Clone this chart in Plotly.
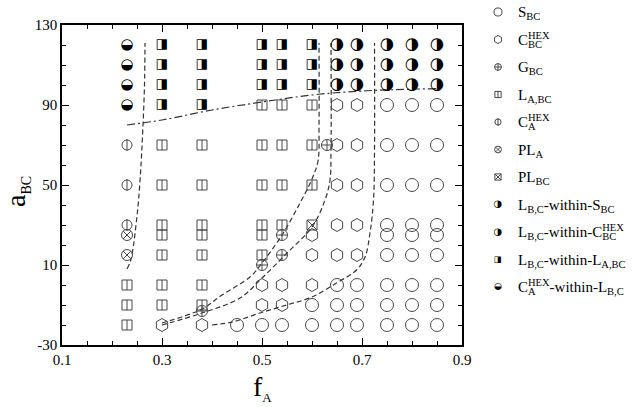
import plotly.graph_objects as go

# ---------------- data (f_A -> list of a_BC) ----------------
S_BC = {0.45: [-20], 0.50: [-20], 0.54: [-20], 0.60: [-10, -20],
        0.65: [0, -10, -20], 0.69: [0, -10, -20],
        0.75: [90, 70, 50, 30, 25, 15, 0, -10, -20],
        0.80: [90, 70, 50, 30, 25, 15, 0, -10, -20],
        0.85: [90, 70, 50, 30, 25, 15, 0, -10, -20]}
C_BC_HEX = {0.30: [-20], 0.38: [-20], 0.50: [0, -10], 0.54: [0, -10],
            0.60: [25, 15, 0], 0.65: [90, 70, 50, 30, 15],
            0.69: [90, 70, 50, 30, 15]}
G_BC = {0.38: [-13], 0.50: [10], 0.54: [25, 15], 0.63: [70]}
L_A_BC = {0.23: [0, -10, -20],
          0.30: [70, 50, 30, 25, 15, 0, -10],
          0.38: [70, 50, 30, 25, 15, 0, -10],
          0.50: [90, 70, 50, 30, 25, 15],
          0.54: [90, 70, 50, 30],
          0.60: [90, 70, 50]}
C_A_HEX = {0.23: [70, 50, 30]}
PL_A = {0.23: [25, 15]}
PL_BC = {0.60: [30]}
LBC_IN_S = {0.75: [120, 110, 100], 0.80: [120, 110, 100], 0.85: [120, 110, 100]}
LBC_IN_C = {0.65: [120, 110, 100], 0.69: [120, 110, 100]}
LBC_IN_L = {0.30: [120, 110, 100, 90], 0.38: [120, 110, 100, 90],
            0.50: [120, 110, 100], 0.54: [120, 110, 100], 0.60: [120, 110, 100]}
CA_IN_L = {0.23: [120, 110, 100, 90]}

# phase boundaries
B1_f = [0.230, 0.237, 0.243, 0.248, 0.253, 0.258, 0.262, 0.265, 0.266]
B1_a = [8, 12, 20, 30, 42, 60, 80, 100, 121]
B2_f = [0.30, 0.38, 0.42, 0.476, 0.50, 0.54, 0.576, 0.60, 0.612, 0.614, 0.614]
B2_a = [-19, -12, -5, 4, 11, 25, 41, 53, 62, 80, 121]
B3_f = [0.30, 0.38, 0.456, 0.50, 0.55, 0.60, 0.626, 0.636, 0.638, 0.638]
B3_a = [-20, -14, -6.5, 3.5, 16, 29, 42.5, 52.5, 67, 121]
B4_f = [0.40, 0.442, 0.496, 0.549, 0.60, 0.649, 0.689, 0.706, 0.716, 0.723, 0.725, 0.725]
B4_a = [-20, -18.4, -14, -10, -6, 1, 7.5, 14, 26, 42.5, 67, 121]
B5_f = [0.23, 0.30, 0.40, 0.50, 0.60, 0.70, 0.85]
B5_a = [80, 82.5, 87.5, 91.5, 95, 97, 98.2]

X_TICKS = [0.1, 0.3, 0.5, 0.7, 0.9]
Y_TICKS = [-30, 10, 50, 90, 130]
Y_TICKTEXT = ["-30", "10", "50", "90", "130"]

def inv(s):
    return "<span style='color:rgba(0,0,0,0)'>" + s + "</span>"

PAD = "<sup>" + inv(".") + "</sup><sub>" + inv(".") + "</sub>"

PHASES = [
    ("S", S_BC, "S<sub>BC</sub>", None),
    ("CBC", C_BC_HEX, "C<sup>HEX</sup>", inv("C") + "<sub>BC</sub>"),
    ("G", G_BC, "G<sub>BC</sub>", None),
    ("L", L_A_BC, "L<sub>A,BC</sub>", None),
    ("CA", C_A_HEX, "C<sup>HEX</sup>", inv("C") + "<sub>A</sub>"),
    ("PLA", PL_A, "PL<sub>A</sub>", None),
    ("PLBC", PL_BC, "PL<sub>BC</sub>", None),
    ("LS", LBC_IN_S, "L<sub>B,C</sub>-within-S<sub>BC</sub>", None),
    ("LC", LBC_IN_C, "L<sub>B,C</sub>-within-C<sup>HEX</sup>",
     inv("L") + "<sub>" + inv("B,C") + "</sub>" + inv("-within-C") + "<sub>BC</sub>"),
    ("LL", LBC_IN_L, "L<sub>B,C</sub>-within-L<sub>A,BC</sub>", None),
    ("CAL", CA_IN_L, "C<sup>HEX</sup>-within-L<sub>B,C</sub>", inv("C") + "<sub>A</sub>"),
]

# ---------------- styling ----------------
W, H = 633, 407
PX0, PX1, PY0, PY1 = 62, 462, 25, 345
MK = "#474747"
SERIF = "Liberation Serif"
GLYPH_FONT = "DejaVu Sans"

STYLE = {
    "S": [("m", "circle-open", 13)],
    "CBC": [("m", "hexagon-open", 13)],
    "G": [("m", "circle-cross-open", 11)],
    "L": [("m", "square-open", 10), ("m", "line-ns-open", 7.2)],
    "CA": [("m", "circle-open", 10), ("m", "line-ns-open", 8.5)],
    "PLA": [("m", "circle-x-open", 11)],
    "PLBC": [("m", "square-x-open", 10)],
    "LS": [("g", "\u25D1", 16.5)],
    "LC": [("g", "\u25D1", 16.5)],
    "LL": [("g", "\u25E8", 13.5)],
    "CAL": [("g", "\u25D2", 15)],
}
LEG_SCALE = 0.62
LEG_SYM_X, LEG_TXT_X = 13, 31
LEG_Y0, LEG_DY = 12, 27.5
LEG_FONT = 15

fig = go.Figure()

def expand(d):
    xs, ys = [], []
    for f, vals in d.items():
        for a in vals:
            xs.append(f)
            ys.append(a)
    return xs, ys

def add_layers(key, xs, ys, xa, ya, scale=1.0):
    for kind, sym, size in STYLE[key]:
        if kind == "m":
            fig.add_trace(go.Scatter(
                x=xs, y=ys, xaxis=xa, yaxis=ya, mode="markers", showlegend=False,
                hoverinfo="skip",
                marker=dict(symbol=sym, size=size * scale, color=MK,
                            line=dict(color=MK, width=1))))
        else:
            fig.add_trace(go.Scatter(
                x=xs, y=ys, xaxis=xa, yaxis=ya, mode="text", showlegend=False,
                hoverinfo="skip", text=[sym] * len(xs), textposition="middle center",
                textfont=dict(family=GLYPH_FONT, size=size * scale, color="black")))

# boundaries
for bf, ba in [(B1_f, B1_a), (B2_f, B2_a), (B3_f, B3_a), (B4_f, B4_a)]:
    fig.add_trace(go.Scatter(x=bf, y=ba, mode="lines", showlegend=False,
                             hoverinfo="skip", line=dict(color="#333", width=1.2,
                                                         dash="5px,3px", shape="spline")))
fig.add_trace(go.Scatter(x=B5_f, y=B5_a, mode="lines", showlegend=False, hoverinfo="skip",
                         line=dict(color="#333", width=1.2, dash="8px,3px,2px,3px",
                                   shape="spline")))

# phase points
for key, data, _, _ in PHASES:
    xs, ys = expand(data)
    add_layers(key, xs, ys, "x", "y")

# legend (symbols on an auxiliary pixel-like axis)
annotations = []
for i, (key, _, label, overlay) in enumerate(PHASES):
    ly = LEG_Y0 + LEG_DY * i
    add_layers(key, [LEG_SYM_X], [ly], "x2", "y2", LEG_SCALE)
    annotations.append(dict(x=LEG_TXT_X, y=ly, xref="x2", yref="y2", text=label + PAD,
                            showarrow=False, xanchor="left", yanchor="middle",
                            font=dict(family=SERIF, size=LEG_FONT, color="black")))
    if overlay:
        annotations.append(dict(x=LEG_TXT_X, y=ly, xref="x2", yref="y2", text=overlay + PAD,
                                showarrow=False, xanchor="left", yanchor="middle",
                                font=dict(family=SERIF, size=LEG_FONT, color="black")))

# axis titles
annotations.append(dict(x=(262) / W, y=1 - 388 / H, xref="paper", yref="paper",
                        text="f<sub><span style='font-size:13px'>A</span></sub>",
                        showarrow=False, xanchor="center", yanchor="middle",
                        font=dict(family=SERIF, size=28, color="black")))
annotations.append(dict(x=17 / W, y=1 - 192 / H, xref="paper", yref="paper",
                        text="a<sub><span style='font-size:14px'>BC</span></sub>",
                        textangle=-90, showarrow=False, xanchor="center", yanchor="middle",
                        font=dict(family=SERIF, size=28, color="black")))

axis_common = dict(showline=True, linecolor="black", linewidth=1.6, mirror="ticks",
                   ticks="inside", ticklen=7, tickwidth=1.3, tickcolor="black",
                   showgrid=False, zeroline=False,
                   tickfont=dict(family=SERIF, size=15, color="black"))

fig.update_layout(
    width=W, height=H, margin=dict(l=0, r=0, t=0, b=0),
    paper_bgcolor="white", plot_bgcolor="white", template="none",
    showlegend=False,
    xaxis=dict(domain=[PX0 / W, PX1 / W], range=[0.1, 0.9], tickmode="array",
               tickvals=X_TICKS, ticktext=[str(v) for v in X_TICKS],
               minor=dict(ticks="inside", ticklen=4, tick0=0.1, dtick=0.05,
                          tickcolor="black", tickwidth=1.2),
               **axis_common),
    yaxis=dict(domain=[1 - PY1 / H, 1 - PY0 / H], range=[-30, 130], tickmode="array",
               tickvals=Y_TICKS, ticktext=Y_TICKTEXT,
               minor=dict(ticks="inside", ticklen=4, tick0=-30, dtick=10,
                          tickcolor="black", tickwidth=1.2),
               **axis_common),
    xaxis2=dict(domain=[485 / W, 1], range=[0, 148], visible=False, fixedrange=True,
                anchor="y2"),
    yaxis2=dict(domain=[0, 1], range=[H, 0], visible=False, fixedrange=True, anchor="x2"),
    annotations=annotations,
)

fig.write_html("out.html")
